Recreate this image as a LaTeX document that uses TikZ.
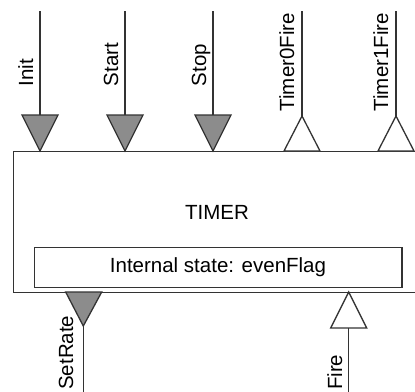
\documentclass[tikz,border=0pt]{standalone}
\usepackage{fontspec}
\setmainfont{Liberation Sans}
\definecolor{ink}{HTML}{333333}
\definecolor{tri}{HTML}{8C8C8C}
\begin{document}
\begin{tikzpicture}[x=1pt,y=-1pt,line width=1.3pt,
  wire/.style={draw=ink},
  intri/.style={draw=ink,fill=tri,line join=miter},
  outtri/.style={draw=ink,fill=white,line join=miter},
  lbl/.style={font=\fontsize{20.5}{24}\selectfont,text=black,inner sep=0pt,rotate=90},
  boxtext/.style={font=\fontsize{20.5}{24}\selectfont,text=black}]
\useasboundingbox (0,0) rectangle (415,391);
\clip (0,0) rectangle (415,391);
% main block
\node[draw=ink,fill=white,minimum width=430pt,minimum height=141pt,anchor=north west,inner sep=0pt] (timer) at (12.5,151) {};
\node[boxtext] (title) at (217,212) {TIMER};
\node[draw=ink,minimum width=367.7pt,minimum height=40pt,inner sep=0pt,boxtext] (state) at (218,267.3) {Internal state: evenFlag};
% top ports: inputs (filled, pointing down)
\foreach \n/\x/\t in {init/40/Init,start/125/Start,stop/213/Stop}{
  \coordinate (\n-end) at (\x,11);
  \coordinate (\n-base) at (\x,115);
  \coordinate (\n-tip) at (\x,151);
  \draw[intri] (\x-18,115) -- (\x+18,115) -- (\n-tip) -- cycle;
  \draw[wire] (\n-end) -- (\n-base);
  \node[lbl,anchor=base west] (\n-lbl) at (\x-7,87) {\t};
}
% top ports: outputs (hollow, pointing up)
\foreach \n/\x/\t in {tzero/302/Timer0Fire,tone/396/Timer1Fire}{
  \coordinate (\n-end) at (\x,11);
  \coordinate (\n-tip) at (\x,116);
  \draw[outtri] (\x-18,151) -- (\x+18,151) -- (\n-tip) -- cycle;
  \draw[wire] (\n-end) -- (\n-tip);
  \node[lbl,anchor=base west] (\n-lbl) at (\x-8,112) {\t};
}
% bottom input SetRate
\coordinate (sr-tip) at (83.3,326);
\coordinate (sr-end) at (83.3,395);
\draw[intri] (65.7,292) -- (101.7,292) -- (sr-tip) -- cycle;
\draw[wire] (sr-tip) -- (sr-end);
\node[lbl,anchor=base east] (sr-lbl) at (73,315) {SetRate};
% bottom output Fire
\coordinate (fi-tip) at (348.7,292);
\coordinate (fi-base) at (348.7,328);
\coordinate (fi-end) at (348.7,395);
\draw[outtri] (330.7,328) -- (366.7,328) -- (fi-tip) -- cycle;
\draw[wire] (fi-base) -- (fi-end);
\node[lbl,anchor=base east] (fi-lbl) at (342,354) {Fire};
\end{tikzpicture}
\end{document}
